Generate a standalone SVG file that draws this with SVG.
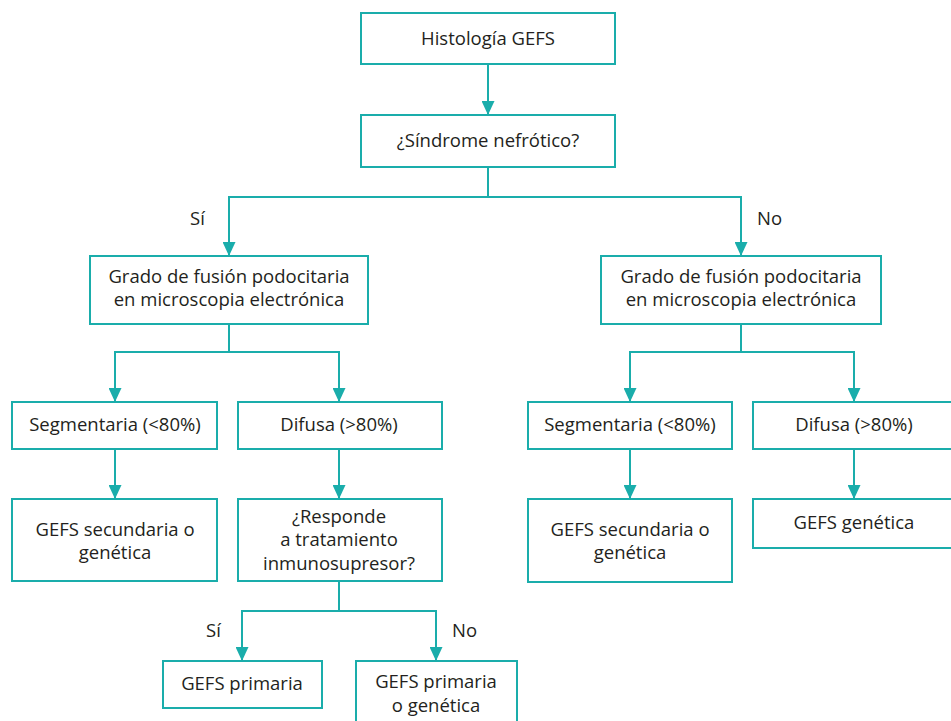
<svg xmlns="http://www.w3.org/2000/svg" width="951" height="721" viewBox="0 0 951 721">
<defs>
<style>
.box{fill:#fff;stroke:#1aadab;stroke-width:2}
.ln{fill:none;stroke:#1aadab;stroke-width:2}
text{font-family:"Open Sans","Noto Sans",sans-serif;font-size:18.5px;fill:#231f20;text-anchor:middle}
.lbl{text-anchor:start}
</style>
<marker id="ah" viewBox="0 0 14 13" refX="14" refY="6.5" markerWidth="14" markerHeight="13" markerUnits="userSpaceOnUse" orient="auto">
<path d="M0,0 L14,6.5 L0,13 Z" fill="#1aadab"/>
</marker>
</defs>
<rect width="951" height="721" fill="#fff"/>
<g id="connectors">
<line class="ln" x1="488" y1="64" x2="488" y2="115" marker-end="url(#ah)"/>
<polyline class="ln" points="488,167 488,197 229,197 229,256" marker-end="url(#ah)"/>
<polyline class="ln" points="488,197 741,197 741,256" marker-end="url(#ah)"/>
<polyline class="ln" points="229,324 229,352 115,352 115,402" marker-end="url(#ah)"/>
<polyline class="ln" points="229,352 339,352 339,402" marker-end="url(#ah)"/>
<line class="ln" x1="115" y1="449" x2="115" y2="499" marker-end="url(#ah)"/>
<line class="ln" x1="339" y1="449" x2="339" y2="499" marker-end="url(#ah)"/>
<polyline class="ln" points="339,581 339,611 242,611 242,661" marker-end="url(#ah)"/>
<polyline class="ln" points="339,611 436,611 436,661" marker-end="url(#ah)"/>
<polyline class="ln" points="741,324 741,352 630,352 630,402" marker-end="url(#ah)"/>
<polyline class="ln" points="741,352 854,352 854,402" marker-end="url(#ah)"/>
<line class="ln" x1="630" y1="449" x2="630" y2="499" marker-end="url(#ah)"/>
<line class="ln" x1="854" y1="449" x2="854" y2="499" marker-end="url(#ah)"/>
<text class="lbl" x="190" y="225">Sí</text>
<text class="lbl" x="757" y="225">No</text>
<text class="lbl" x="206" y="637">Sí</text>
<text class="lbl" x="452" y="637">No</text>
</g>
<g id="n1"><rect class="box" x="361" y="13" width="254" height="51"/><text x="488" y="45">Histología GEFS</text></g>
<g id="n2"><rect class="box" x="361" y="115" width="254" height="52"/><text x="488" y="147">¿Síndrome nefrótico?</text></g>
<g id="n3"><rect class="box" x="90" y="256" width="278" height="68"/><text x="229" y="283">Grado de fusión podocitaria</text><text x="229" y="306">en microscopia electrónica</text></g>
<g id="n4"><rect class="box" x="601" y="256" width="280" height="68"/><text x="741" y="283">Grado de fusión podocitaria</text><text x="741" y="306">en microscopia electrónica</text></g>
<g id="n5"><rect class="box" x="12" y="402" width="205" height="47"/><text x="115" y="431">Segmentaria (&lt;80%)</text></g>
<g id="n6"><rect class="box" x="238" y="402" width="204" height="47"/><text x="339" y="431">Difusa (&gt;80%)</text></g>
<g id="n7"><rect class="box" x="12" y="499" width="205" height="82"/><text x="115" y="536">GEFS secundaria o</text><text x="115" y="559">genética</text></g>
<g id="n8"><rect class="box" x="238" y="499" width="204" height="82"/><text x="339" y="523">¿Responde</text><text x="339" y="546">a tratamiento</text><text x="339" y="570">inmunosupresor?</text></g>
<g id="n9"><rect class="box" x="163" y="661" width="159" height="47"/><text x="242" y="690">GEFS primaria</text></g>
<g id="n10"><rect class="box" x="356" y="661" width="161" height="70"/><text x="436" y="688">GEFS primaria</text><text x="436" y="712">o genética</text></g>
<g id="n11"><rect class="box" x="528" y="402" width="204" height="47"/><text x="630" y="431">Segmentaria (&lt;80%)</text></g>
<g id="n12"><rect class="box" x="753" y="402" width="210" height="47"/><text x="854" y="431">Difusa (&gt;80%)</text></g>
<g id="n13"><rect class="box" x="528" y="499" width="204" height="83"/><text x="630" y="536">GEFS secundaria o</text><text x="630" y="559">genética</text></g>
<g id="n14"><rect class="box" x="753" y="499" width="210" height="49"/><text x="854" y="529">GEFS genética</text></g>
</svg>
